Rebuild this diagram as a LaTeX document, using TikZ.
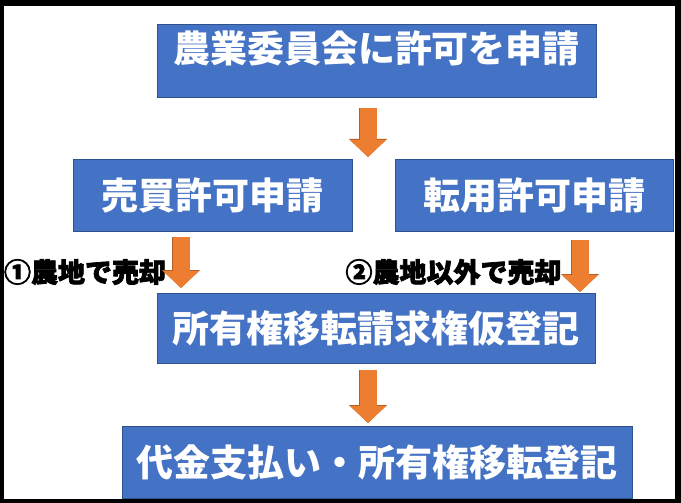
\documentclass[tikz,border=0pt]{standalone}
\usepackage{fontspec}
\setmainfont{Noto Sans CJK JP}
\newfontfamily\heavyfont[FakeBold=2.6]{Noto Sans CJK JP}
\usetikzlibrary{arrows.meta}
\definecolor{boxblue}{HTML}{4472C4}
\definecolor{boxline}{HTML}{2F528F}
\definecolor{arroworange}{HTML}{ED7D31}
\definecolor{arrowline}{HTML}{B45F23}

\begin{document}
\begin{tikzpicture}[x=1pt,y=-1pt,
    box/.style={draw=boxline, fill=boxblue, line width=0.8pt, inner sep=0pt,
      text=white, text height=32pt, text depth=4pt,
      font=\fontsize{37}{37}\selectfont\bfseries},
    note/.style={inner sep=0pt, font=\heavyfont\fontsize{27}{27}\selectfont\bfseries},
    blockarrow/.style={draw=arroworange, line width=17pt,
      -{Triangle[width=35pt,length=17pt]},
      preaction={draw=arrowline, line width=18.4pt, -{Triangle[width=37pt,length=18pt]}}}]
      \useasboundingbox (0,0) rectangle (681,503);
      \fill[black] (0,0) rectangle (681,503);
      \fill[white] (4,6) rectangle (675,499);

      \node[box, minimum width=439pt, minimum height=73pt, text depth=28pt] (apply) at (376.5,60.5) {農業委員会に許可を申請};
      \node[box, minimum width=279pt, minimum height=72pt] (sale) at (212.5,195) {売買許可申請};
      \node[box, minimum width=278pt, minimum height=72pt] (convert) at (534,195) {転用許可申請};
      \node[box, minimum width=438pt, minimum height=70pt] (provisional) at (376,328) {所有権移転請求権仮登記};
      \node[box, minimum width=510pt, minimum height=72pt] (final) at (377,462) {代金支払い・所有権移転登記};

      \node[note] (farmsale) at (85,272) {①農地で売却};
      \node[note] (othersale) at (453.5,272) {②農地以外で売却};

      \coordinate (a1) at (368,108);
      \coordinate (b1) at (368,157);
      \coordinate (a2) at (181,237);
      \coordinate (b2) at (181,288);
      \coordinate (a3) at (580,240);
      \coordinate (b3) at (580,292);
      \coordinate (a4) at (368,370);
      \coordinate (b4) at (368,423);

      \draw[blockarrow] (a1) -- (b1);
      \draw[blockarrow] (a2) -- (b2);
      \draw[blockarrow] (a3) -- (b3);
      \draw[blockarrow] (a4) -- (b4);
    \end{tikzpicture}
\end{document}
